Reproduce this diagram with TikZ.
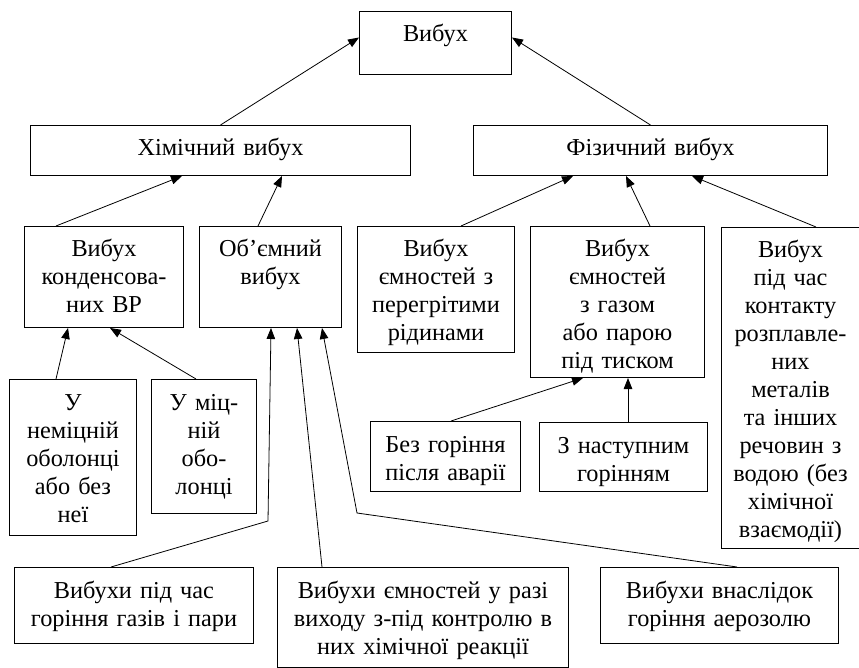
\documentclass[tikz,border=0pt]{standalone}
\usepackage{fontspec}
\setmainfont{Liberation Serif}
\usepackage{tikz}
\usetikzlibrary{arrows.meta}

\newcommand{\boxfont}{\fontsize{24.3pt}{28pt}\selectfont}

\begin{document}
\begin{tikzpicture}[x=1pt,y=1pt,
  box/.style={draw, line width=1pt, anchor=north west, align=center,
    inner xsep=3pt, inner ysep=0pt, text height=30.5pt, font=\boxfont},
  link/.style={line width=0.8pt, -{Triangle[length=11pt,width=8.5pt]}}]

\useasboundingbox (0,0) rectangle (859,-668);

% ===================== TOP =====================
\node[box, text width=146pt, text depth=32.5pt] (vybukh) at (359,-11) {Вибух};

\node[box, text width=374pt, text depth=19.5pt] (chem) at (30,-125) {Хімічний вибух};
\node[box, text width=348pt, text depth=19.5pt] (phys) at (473,-125) {Фізичний вибух};

% ===================== THIRD ROW =====================
\node[box, text width=153pt, text depth=70.5pt] (kond) at (24,-226)
  {Вибух\\конденсова-\\них ВР};
\node[box, text width=136pt, text depth=70.5pt] (obem) at (199,-226)
  {Об’ємний\\вибух};
\node[box, text width=151pt, text depth=95.5pt] (peregr) at (357,-226)
  {Вибух\\ємностей з\\перегрітими\\рідинами};
\node[box, text width=168pt, text depth=120.5pt] (gaz) at (530,-226)
  {Вибух\\ємностей\\з газом\\або парою\\під тиском};
\node[box, text width=132pt, text depth=290.5pt] (kontakt) at (721,-227)
  {Вибух\\під час\\контакту\\розплавле-\\них\\металів\\та інших\\речовин з\\водою (без\\хімічної\\взаємодії)};

% ===================== FOURTH ROW =====================
\node[box, text width=121pt, text depth=125.5pt] (nemits) at (9,-379)
  {У\\неміцній\\оболонці\\або без\\неї};
\node[box, text width=99pt, text depth=103.5pt] (mits) at (151,-379)
  {У міц-\\ній\\обо-\\лонці};
\node[box, text width=144pt, text depth=39.5pt] (bezgor) at (370,-421)
  {Без горіння\\після аварії};
\node[box, text width=162pt, text depth=38.5pt] (nastup) at (539,-422)
  {З наступним\\горінням};

% ===================== BOTTOM ROW =====================
\node[box, text width=233pt, text depth=45.5pt] (gaziv) at (14,-567)
  {Вибухи під час\\горіння газів і пари};
\node[box, text width=285pt, text depth=69.5pt] (yemn) at (277,-567)
  {Вибухи ємностей у разі\\виходу з-під контролю в\\них хімічної реакції};
\node[box, text width=232pt, text depth=45.5pt] (aeroz) at (600,-567)
  {Вибухи внаслідок\\горіння аерозолю};

\coordinate (bendA) at (268,-521);
\coordinate (bendB) at (357,-513);

% ===================== ARROWS =====================
\draw[link] (chem.north) -- ([yshift=5.5pt]vybukh.west);
\draw[link] (phys.north) -- ([yshift=5.5pt]vybukh.east);

\draw[link] ([xshift=32pt]kond.north west) -- ([xshift=152pt]chem.south west);
\draw[link] ([xshift=59pt]obem.north west) -- ([xshift=252pt]chem.south west);

\draw[link] ([xshift=104pt]peregr.north west) -- ([xshift=100pt]phys.south west);
\draw[link] ([xshift=120pt]gaz.north west) -- ([xshift=153pt]phys.south west);
\draw[link] ([xshift=95pt]kontakt.north west) -- ([xshift=219pt]phys.south west);

\draw[link] ([xshift=47pt]nemits.north west) -- ([xshift=44pt]kond.south west);
\draw[link] ([xshift=45pt]mits.north west) -- ([xshift=86pt]kond.south west);

\draw[link] ([xshift=81pt]bezgor.north west) -- ([xshift=53pt]gaz.south west);
\draw[link] ([xshift=89pt]nastup.north west) -- ([xshift=98pt]gaz.south west);

\draw[link] ([xshift=97pt]gaziv.north west) -- (bendA) -- ([xshift=72pt]obem.south west);
\draw[link] ([xshift=45pt]yemn.north west) -- ([xshift=98pt]obem.south west);
\draw[link] ([xshift=137pt]aeroz.north west) -- (bendB) -- ([xshift=123pt]obem.south west);

\end{tikzpicture}
\end{document}
